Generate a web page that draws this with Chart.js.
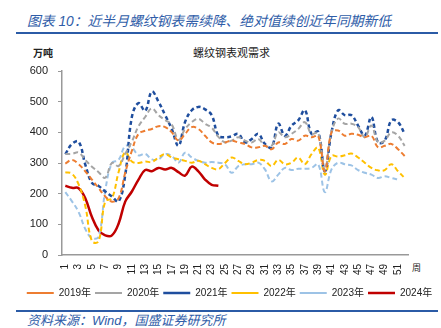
<!DOCTYPE html>
<html lang="zh">
<head>
<meta charset="UTF-8">
<script src="https://cdn.jsdelivr.net/npm/chart.js"></script>
<title>螺纹钢表观需求</title>
<style>
  body { margin: 0; width: 441px; height: 328px; background: #fff; position: relative; overflow: hidden;
         font-family: "Liberation Sans", "Noto Sans CJK SC", sans-serif; }
  .titulo { position: absolute; left: 27px; top: 10px; font-size: 13.8px; font-style: italic; color: #2F5DA8;
            font-family: "Liberation Sans", "Noto Sans CJK SC", sans-serif; white-space: nowrap; }
  .linha { position: absolute; left: 16px; width: 422px; height: 2px; background: #2B5BA6; }
  .unidade { position: absolute; left: 33px; top: 45px; font-size: 10px; font-weight: bold; color: #222;
             font-family: "Noto Sans CJK SC", sans-serif; }
  .subtitulo { position: absolute; left: 193px; top: 44px; font-size: 11px; color: #222;
               font-family: "Noto Sans CJK SC", sans-serif; }
  .semana { position: absolute; left: 412px; top: 261px; font-size: 9px; color: #222;
            font-family: "Noto Sans CJK SC", sans-serif; }
  .grafico { position: absolute; left: 0; top: 40px; width: 441px; height: 268px; }
  .fonte { position: absolute; left: 27px; top: 310px; font-size: 13px; font-style: italic; color: #2F5DA8;
           white-space: nowrap; }
</style>
</head>
<body>
  <div class="titulo">图表 10：近半月螺纹钢表需续降、绝对值续创近年同期新低</div>
  <div class="linha" style="top:32px"></div>
  <div class="unidade">万吨</div>
  <div class="subtitulo">螺纹钢表观需求</div>
  <div class="semana">周</div>
  <div class="grafico"><canvas id="myChart"></canvas></div>
  <div class="linha" style="top:310px"></div>
  <div class="fonte">资料来源：Wind，国盛证券研究所</div>

<script>
  // semanas 1..52
  var semanas = [];
  for (var s = 1; s <= 52; s++) semanas.push(String(s));

  var ano2019 = [298, 310, 296, 273, 246, 218, 191, 174, 185, 268, 340, 395, 405,
                 411, 420, 417, 400, 373, 395, 417, 411, 389, 367, 362, 367, 373,
                 367, 362, 351, 351, 356, 345, 367, 362, 378, 373, 389, 384, 388,
                 273, 400, 406, 389, 395, 392, 384, 389, 351, 356, 362, 345, 323];
  var ano2020 = [329, 330, 334, 310, 288, 270, 252, 300, 290, 330, 370, 420, 450,
                 478, 456, 440, 425, 375, 411, 433, 444, 428, 415, 385, 367, 373,
                 384, 373, 367, 378, 356, 356, 400, 384, 395, 411, 433, 395, 398,
                 279, 400, 445, 428, 428, 417, 384, 422, 367, 373, 400, 389, 356];
  var ano2021 = [329, 362, 370, 295, 235, 225, 207, 191, 174, 260, 450, 495, 470,
                 533, 500, 456, 411, 356, 434, 472, 483, 475, 456, 389, 384, 387,
                 395, 367, 378, 395, 362, 351, 428, 389, 422, 439, 472, 395, 402,
                 273, 400, 472, 456, 456, 422, 389, 450, 367, 373, 439, 433, 395];
  var ano2022 = [270, 265, 230, 160, 45, 45, 175, 185, 270, 335, 305, 300, 305,
                 303, 318, 329, 318, 312, 307, 301, 307, 296, 284, 280, 300, 318,
                 307, 296, 301, 310, 307, 290, 310, 296, 301, 318, 296, 329, 350,
                 262, 323, 321, 325, 331, 318, 301, 284, 276, 277, 296, 273, 251];
  var ano2023 = [205, 175, 140, 85, 55, 60, 210, 300, 310, 355, 350, 325, 330,
                 312, 312, 329, 323, 301, 334, 318, 307, 301, 303, 301, 296, 268,
                 290, 296, 296, 301, 279, 240, 262, 284, 277, 281, 281, 284, 296,
                 205, 279, 301, 296, 292, 277, 268, 262, 251, 257, 251, 246];
  var ano2024 = [226, 219, 218, 185, 124, 80, 64, 64, 102, 174, 207, 246, 277,
                 273, 284, 279, 284, 270, 259, 288, 273, 246, 229, 226];

  var eixoY = [0, 100, 200, 300, 400, 500, 600];

  function serie(nome, dados, cor, tracejado, largura) {
    return {
      label: nome,
      data: dados,
      borderColor: cor,
      backgroundColor: cor,
      borderWidth: largura,
      borderDash: tracejado,
      pointRadius: 0,
      pointHoverRadius: 0,
      fill: false,
      tension: 0.4,
      yAxisID: 'y'
    };
  }

  var dados = {
    labels: semanas,
    datasets: [
      serie('2019年', ano2019, '#ED7D31', [5, 3], 2),
      serie('2020年', ano2020, '#A5A5A5', [5, 3], 2),
      serie('2021年', ano2021, '#1F4E9E', [4, 3], 2.5),
      serie('2022年', ano2022, '#FFC000', [5, 3], 2),
      serie('2023年', ano2023, '#9DC3E6', [5, 3], 2),
      serie('2024年', ano2024, '#C00000', [], 2.5)
    ]
  };

  const config = {
    type: 'line',
    data: dados,
    options: {
      responsive: true,
      maintainAspectRatio: false,
      animation: false,
      layout: { padding: { left: 18, right: 0, top: 31, bottom: 0 } },
      plugins: {
        tooltip: { enabled: false },
        legend: {
          position: 'bottom',
          labels: {
            usePointStyle: true,
            pointStyle: 'line',
            pointStyleWidth: 27,
            padding: 4,
            color: '#222',
            font: { size: 10, family: '"Liberation Sans", "Noto Sans CJK SC", sans-serif' }
          }
        }
      },
      scales: {
        x: {
          offset: true,
          grid: { display: false, drawTicks: false },
          border: { display: true, color: '#999', width: 1.5 },
          afterFit: function (escala) { escala.height = 29; },
          ticks: {
            autoSkip: false,
            maxRotation: 90,
            minRotation: 90,
            padding: 9,
            color: '#222',
            font: { size: 10, family: '"Liberation Sans", sans-serif' },
            callback: function (valor, i) { return (i % 2 === 0) ? semanas[i] : ''; }
          }
        },
        y: {
          min: eixoY[0],
          max: eixoY[eixoY.length - 1],
          afterFit: function (escala) { escala.width = 44; },
          grid: { display: true, drawOnChartArea: false, drawTicks: true, tickLength: 4, color: '#999' },
          border: { display: true, color: '#999', width: 1.5 },
          ticks: {
            stepSize: 100,
            padding: 10,
            color: '#222',
            font: { size: 11, family: '"Liberation Sans", sans-serif' }
          }
        },
        // eixo vazio só para reservar a margem direita
        margem: {
          type: 'linear',
          position: 'right',
          display: true,
          grid: { display: false },
          border: { display: false },
          ticks: { display: false },
          afterFit: function (escala) { escala.width = 33; }
        }
      }
    }
  };

  let myChart = new Chart(document.getElementById('myChart'), config);
</script>
</body>
</html>
